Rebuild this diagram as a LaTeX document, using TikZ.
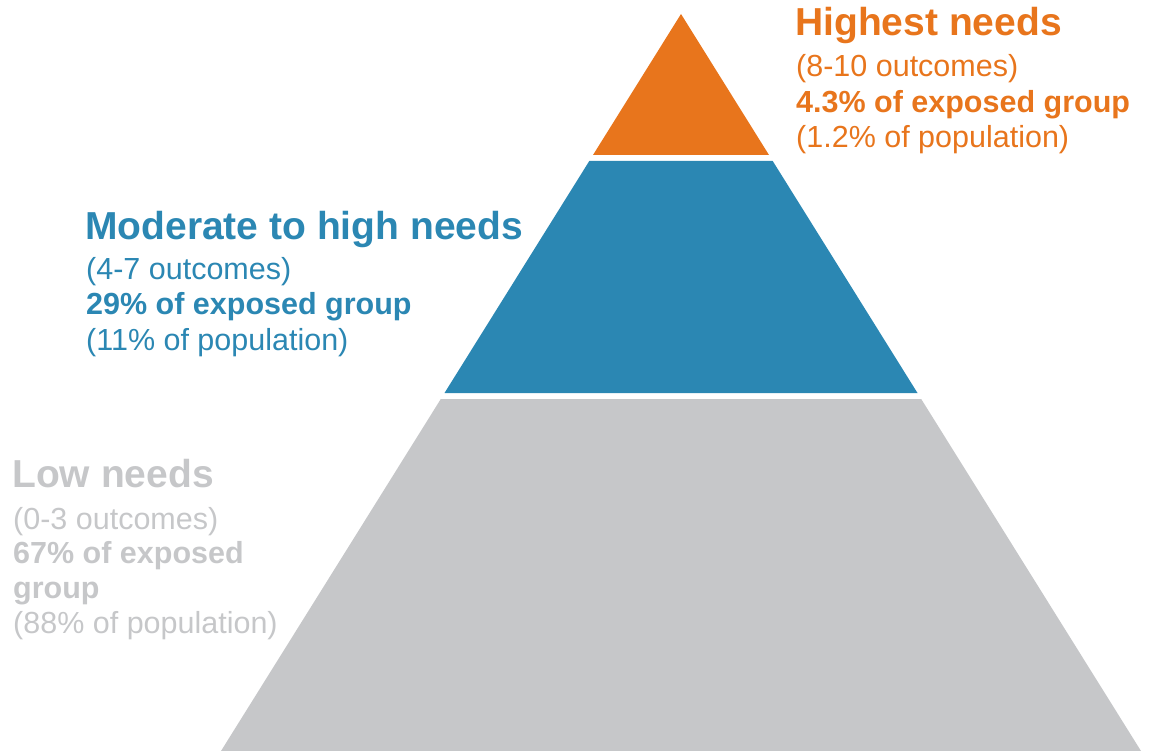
\documentclass[tikz,border=0pt]{standalone}
\usepackage{fontspec}
\setmainfont{Liberation Sans}
\usetikzlibrary{positioning}
\definecolor{morange}{RGB}{232, 117, 28}
\definecolor{mblue}{RGB}{43, 135, 179}
\definecolor{mgray}{RGB}{198, 199, 201}
\tikzset{
  title/.style={anchor=base west, inner sep=0pt, font=\fontsize{39}{40}\selectfont\bfseries},
  line/.style={anchor=base west, inner sep=0pt, font=\fontsize{30.5}{34}\selectfont},
  boldline/.style={line, font=\fontsize{30.5}{34}\selectfont\bfseries}
}
\begin{document}
\begin{tikzpicture}[x=1pt, y=-1pt]
      \useasboundingbox (0, 0) rectangle (1149, 751);

      \fill [morange] (681, 14) -- (593, 155) -- (769, 155) -- cycle;
      \fill [mblue] (589.3, 161) -- (772.7, 161) -- (917.5, 393) -- (444.5, 393) -- cycle;
      \fill [mgray] (440.8, 399) -- (921.2, 399) -- (1141, 751) -- (221, 751) -- cycle;

      \node (hi-title) at (795, 36) [title, morange] {Highest needs};
      \node (hi-count) at (796, 77) [line, morange] {(8-10 outcomes)};
      \node (hi-share) at (796, 112.5) [boldline, morange] {4.3\% of exposed group};
      \node (hi-pop) at (796, 148) [line, morange] {(1.2\% of population)};

      \node (mod-title) at (85, 240) [title, mblue] {Moderate to high needs};
      \node (mod-count) at (86, 280) [line, mblue] {(4-7 outcomes)};
      \node (mod-share) at (86, 315) [boldline, mblue] {29\% of exposed group};
      \node (mod-pop) at (86, 350.5) [line, mblue] {(11\% of population)};

      \node (low-title) at (12, 487) [title, mgray] {Low needs};
      \node (low-count) at (13, 529) [line, mgray] {(0-3 outcomes)};
      \node (low-share) at (13, 563.5) [boldline, mgray] {67\% of exposed};
      \node (low-group) at (13, 598) [boldline, mgray] {group};
      \node (low-pop) at (13, 633.5) [line, mgray] {(88\% of population)};
    \end{tikzpicture}
\end{document}
